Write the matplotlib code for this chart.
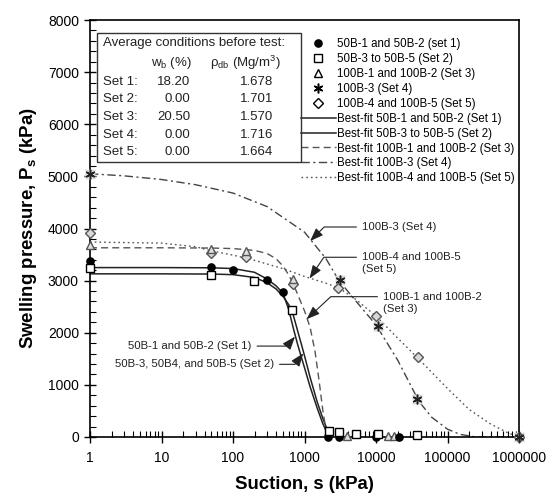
import matplotlib
matplotlib.use("Agg")
import matplotlib.pyplot as plt
from matplotlib.lines import Line2D
from matplotlib.patches import Rectangle
from matplotlib.ticker import LogLocator, MultipleLocator, NullFormatter

plt.rcParams["font.family"] = ["Liberation Sans", "DejaVu Sans"]
plt.rcParams["mathtext.fontset"] = "custom"
plt.rcParams["mathtext.rm"] = "Liberation Sans"
plt.rcParams["mathtext.it"] = "Liberation Sans:italic"
plt.rcParams["mathtext.bf"] = "Liberation Sans:bold"

# ---- measured points (suction kPa, swelling pressure kPa) ----
s1 = [1, 50, 100, 300, 500, 2150, 3000, 10000, 21000]
p1 = [3380, 3256, 3204, 3010, 2776, 0, 0, 0, 0]
s2 = [1, 50, 195, 661, 2200, 3000, 5300, 10500, 37500]
p2 = [3236, 3108, 2990, 2436, 110, 90, 60, 60, 40]
s3 = [1, 50, 150, 700, 2150, 3900, 14600, 17800]
p3 = [3683, 3610, 3560, 3040, 100, 20, 10, 20]
s4 = [1, 3100, 10500, 38000, 1000000]
p4 = [5050, 3020, 2130, 730, 0]
s5 = [1, 50, 150, 700, 2950, 10000, 38300, 1000000]
p5 = [3908, 3530, 3460, 2930, 2860, 2330, 1529, 0]

# ---- best-fit curves ----
fit1_s = [1, 10, 50, 100, 200, 300, 400, 500, 600, 700, 800, 900, 1000,
          1200, 1500, 1800, 2000, 2200]
fit1_p = [3250, 3250, 3246, 3232, 3160, 3030, 2900, 2760, 2450, 2080, 1780,
          1540, 1330, 960, 560, 260, 120, 0]
fit2_s = [1, 10, 50, 100, 200, 300, 400, 500, 600, 700, 800, 900, 1000,
          1200, 1500, 1800, 2000, 2300]
fit2_p = [3130, 3130, 3126, 3115, 3060, 2960, 2840, 2700, 2540, 2330, 2040,
          1790, 1560, 1140, 680, 360, 200, 0]
fit3_s = [1, 10, 50, 100, 200, 300, 400, 500, 600, 700, 800, 1000, 1200,
          1400, 1600, 1800, 2000, 2100]
fit3_p = [3630, 3630, 3625, 3615, 3580, 3520, 3420, 3280, 3110, 2930, 2740,
          2420, 2100, 1650, 1080, 520, 130, 0]
fit4_s = [1, 3, 10, 30, 100, 300, 1000, 2000, 3000, 5000, 10000, 20000,
          40000, 60000, 100000, 150000, 250000, 1000000]
fit4_p = [5050, 5010, 4940, 4840, 4680, 4420, 3930, 3420, 3010, 2640, 2150,
          1480, 680, 380, 150, 50, 0, 0]
fit5_s = [1, 10, 30, 50, 100, 200, 500, 1000, 2000, 3000, 5000, 10000,
          20000, 40000, 100000, 200000, 400000, 700000, 1000000]
fit5_p = [3740, 3720, 3650, 3570, 3490, 3390, 3230, 3080, 2950, 2860, 2660,
          2320, 1900, 1490, 930, 530, 250, 80, 0]

xticks = [1, 10, 100, 1000, 10000, 100000, 1000000]
xticklabels = ["1", "10", "100", "1000", "10000", "100000", "1000000"]

# inset table
set_names = ["Set 1:", "Set 2:", "Set 3:", "Set 4:", "Set 5:"]
wb = ["18.20", "0.00", "20.50", "0.00", "0.00"]
rho = ["1.678", "1.701", "1.570", "1.716", "1.664"]

fig = plt.figure(figsize=(5.49, 4.96), dpi=100)
ax = fig.add_axes([90 / 549, 1 - 437 / 496, 429 / 549, 417 / 496])
ax.set_xscale("log")
ax.set_xlim(1, 1e6)
ax.set_ylim(0, 8000)

# fitted curves
l1, = ax.plot(fit1_s, fit1_p, "-", color="#222222", lw=1.1)
l2, = ax.plot(fit2_s, fit2_p, "-", color="#222222", lw=1.1)
l3, = ax.plot(fit3_s, fit3_p, color="#555555", lw=1.0, ls=(0, (5, 3)))
l4, = ax.plot(fit4_s, fit4_p, color="#444444", lw=1.0, ls=(0, (6, 2.5, 1.5, 2.5)))
l5, = ax.plot(fit5_s, fit5_p, color="#555555", lw=1.0, ls=(0, (1.2, 2.2)))

# measured points
mk = dict(ls="none", clip_on=False, zorder=5)
ax.plot(s4, p4, marker="s", ms=7, mfc="#dcdcdc", mec="none", **mk)
ax.plot(s5, p5, marker="D", ms=4.8, mfc="#d8d8d8", mec="#555555", mew=1, **mk)
ax.plot(s3, p3, marker="^", ms=6, mfc="#e0e0e0", mec="#555555", mew=1, **mk)
ax.plot(s4, p4, marker=(6, 2, 0), ms=7, mec="#222222", mew=1.1, **mk)
ax.plot(s1, p1, marker="o", ms=5.2, mfc="black", mec="black", **mk)
ax.plot(s2, p2, marker="s", ms=5.8, mfc="white", mec="black", mew=1, **mk)

# axes styling
ax.set_xticks(xticks)
ax.set_xticklabels(xticklabels)
ax.xaxis.set_minor_locator(LogLocator(base=10, subs=range(2, 10)))
ax.xaxis.set_minor_formatter(NullFormatter())
ax.yaxis.set_major_locator(MultipleLocator(1000))
ax.yaxis.set_minor_locator(MultipleLocator(200))
ax.tick_params(which="major", direction="inout", length=8, width=1,
               labelsize=10, top=False, right=False)
ax.tick_params(axis="y", which="major", pad=4)
ax.tick_params(axis="x", which="major", pad=6)
ax.tick_params(which="minor", direction="in", length=4, width=0.8,
               top=False, right=False)
for sp in ax.spines.values():
    sp.set_linewidth(1.2)

ax.set_xlabel("Suction, s (kPa)", fontsize=13.4, fontweight="bold", labelpad=8)
ax.set_ylabel("Swelling pressure, P$_\\mathbf{s}$ (kPa)", fontsize=13.4,
              fontweight="bold", labelpad=6)

# legend
handles = [
    Line2D([], [], ls="none", marker="o", ms=5.2, mfc="black", mec="black"),
    Line2D([], [], ls="none", marker="s", ms=5.8, mfc="white", mec="black"),
    Line2D([], [], ls="none", marker="^", ms=6, mfc="white", mec="black"),
    Line2D([], [], ls="none", marker=(6, 2, 0), ms=7, mec="black", mew=1.1),
    Line2D([], [], ls="none", marker="D", ms=4.8, mfc="white", mec="black"),
    l1, l2, l3, l4, l5,
]
labels = [
    "50B-1 and 50B-2 (set 1)",
    "50B-3 to 50B-5 (Set 2)",
    "100B-1 and 100B-2 (Set 3)",
    "100B-3 (Set 4)",
    "100B-4 and 100B-5 (Set 5)",
    "Best-fit 50B-1 and 50B-2 (Set 1)",
    "Best-fit 50B-3 to 50B-5 (Set 2)",
    "Best-fit 100B-1 and 100B-2 (Set 3)",
    "Best-fit 100B-3 (Set 4)",
    "Best-fit 100B-4 and 100B-5 (Set 5)",
]
ax.legend(handles, labels, loc="upper left", bbox_to_anchor=(0.4918, 0.957),
          frameon=False, fontsize=8.3, handlelength=3.0, handletextpad=0.1,
          labelspacing=0.255, borderpad=0, borderaxespad=0)

# inset table of initial conditions
ax.add_patch(Rectangle((0.0163, 0.6595), 0.4755, 0.3093, transform=ax.transAxes,
                       fill=False, lw=1, ec="#333333", zorder=6))
tf = dict(transform=ax.transAxes, fontsize=9.5, va="center", color="#222222")
ax.text(0.0303, 0.9448, "Average conditions before test:", ha="left", **tf)
ax.text(0.1888, 0.8969, "w$_{\\rm b}$ (%)", ha="center", **tf)
ax.text(0.3625, 0.8969, "\u03c1$_{\\rm db}$ (Mg/m$^{\\rm 3}$)", ha="center", **tf)
for i, (nm, w, r) in enumerate(zip(set_names, wb, rho)):
    y = 1 - ((82 + 17.5 * i) - 20) / 417
    ax.text(0.0303, y, nm, ha="left", **tf)
    ax.text(0.2331, y, w, ha="right", **tf)
    ax.text(0.4266, y, r, ha="right", **tf)

# annotations
af = dict(fontsize=8.2, va="center", color="#222222",
          textcoords="axes fraction", xycoords="data")


def arrow(ang, rel):
    return dict(arrowstyle="-|>,head_length=0.8,head_width=0.3", color="#222222",
                lw=0.8, mutation_scale=10, shrinkA=2, shrinkB=0, relpos=rel,
                connectionstyle=f"angle,angleA=0,angleB={ang},rad=0")


ax.annotate("100B-3 (Set 4)", xy=(1200, 3760), xytext=(0.634, 0.5036),
            ha="left", arrowprops=arrow(45, (0, 0.5)), **af)
ax.annotate("100B-4 and 100B-5", xy=(1175, 3040), xytext=(0.634, 0.431),
            ha="left", arrowprops=arrow(56, (0, 0.5)), **af)
ax.text(0.634, 0.403, "(Set 5)", transform=ax.transAxes, ha="left",
        va="center", fontsize=8.2, color="#222222")
ax.annotate("100B-1 and 100B-2", xy=(1070, 2260), xytext=(0.683, 0.3365),
            ha="left", arrowprops=arrow(43, (0, 0.5)), **af)
ax.text(0.683, 0.306, "(Set 3)", transform=ax.transAxes, ha="left",
        va="center", fontsize=8.2, color="#222222")
ax.annotate("50B-1 and 50B-2 (Set 1)", xy=(736, 1925), xytext=(0.3765, 0.218),
            ha="right", arrowprops=arrow(50, (1, 0.5)), **af)
ax.annotate("50B-3, 50B4, and 50B-5 (Set 2)", xy=(962, 1606),
            xytext=(0.429, 0.1743), ha="right", arrowprops=arrow(53, (1, 0.5)),
            **af)

fig.savefig("out.png", dpi=100)
